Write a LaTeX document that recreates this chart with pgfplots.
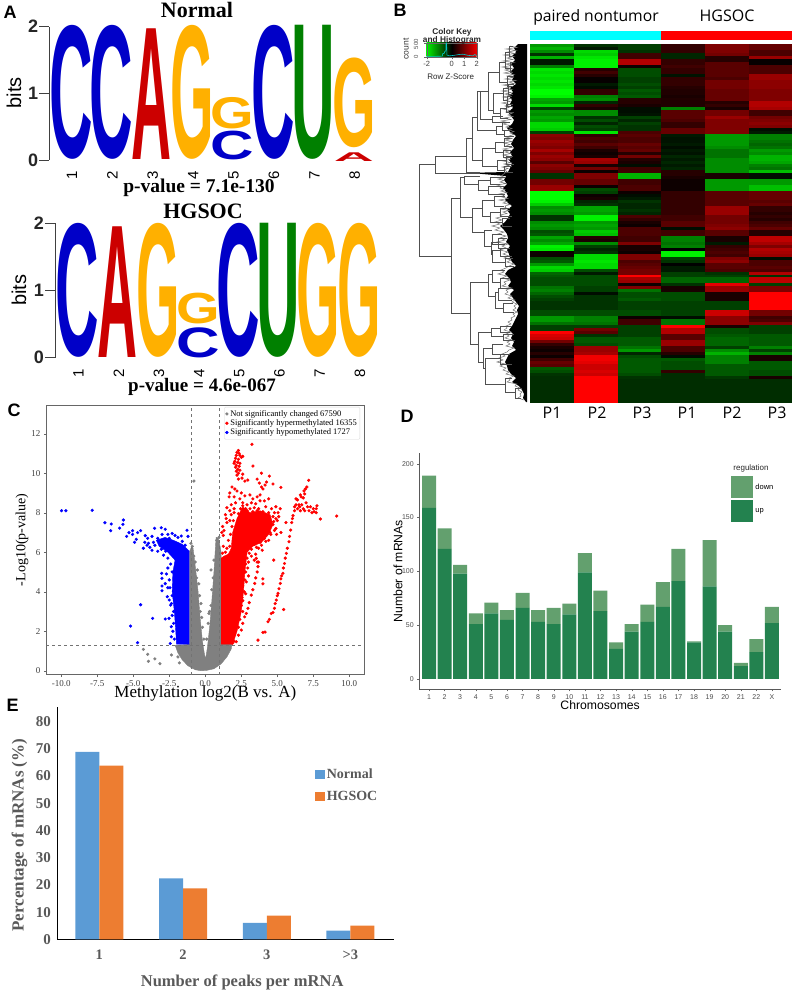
\documentclass[border=0pt]{standalone}
\usepackage{fontspec}
\usepackage{pgfplots}
\usepackage{pgfplotstable}
\pgfplotsset{compat=1.18}
\setmainfont{Liberation Sans}
\newfontfamily\serifb{Liberation Serif}
\newfontfamily\opens{Open Sans}
\newfontfamily\logofont{Liberation Sans}

\newcommand{\fs}[1]{\fontsize{#1}{#1}\selectfont}
\definecolor{logoC}{HTML}{0000C8}
\definecolor{logoG}{HTML}{FFB000}
\definecolor{logoA}{HTML}{CC0000}
\definecolor{logoU}{HTML}{008000}
\definecolor{upbar}{HTML}{23824F}
\definecolor{downbar}{HTML}{63A06E}
\definecolor{xlblue}{HTML}{5B9BD5}
\definecolor{xlorange}{HTML}{ED7D31}
\definecolor{greytxt}{HTML}{595959}
\definecolor{volgrey}{HTML}{808080}
\definecolor{treeline}{HTML}{505050}
\definecolor{barcyan}{HTML}{00FFFF}
\definecolor{barred}{HTML}{FF0000}
\definecolor{keygreen}{HTML}{00F000}
\definecolor{keyred}{HTML}{F00000}
\definecolor{histline}{HTML}{00C8C8}

% all panels are placed in reference pixels, 1px = 1pt
\pgfplotsset{
  px/.style n args={4}{scale only axis, anchor=north west,
    at={(#1pt,-#2pt)}, width=#3pt, height=#4pt},
  /pgf/number format/assume math mode=true,
}

% one letter of a sequence logo: [width] position, bottom bits, top bits, letter, colour
\newcommand{\logoletter}[6][43.5]{\node[anchor=south,inner sep=0pt] at (axis cs:#2,#3)
  {\pgfmathsetmacro\hh{(#4-#3)*67}\resizebox*{#1pt}{\hh pt}{\textcolor{#6}{\logofont\bfseries #5}}};}
\pgfplotsset{logo/.style={clip=false, ymin=0, ymax=2, xmax=8.5,
  axis y line*=left, axis x line*=bottom, x axis line style={draw=none},
  xtick={1,...,8}, ytick={0,1,2}, x tick style={draw=none},
  y tick style={black!75, line width=.9pt}, y axis line style={black!75, line width=.9pt},
  tick align=outside, major tick length=10pt,
  yticklabel style={font=\bfseries\fs{18}, text=black!85, inner sep=1pt},
  xticklabel style={font=\fs{15}, rotate=90, anchor=east, inner sep=1pt, yshift=-1pt}}}

% dendrogram bracket: parent x, y1, child x1, y2, child x2
\newcommand{\br}[5]{\addplot[treeline, line width=.65pt] coordinates {(#3,#2)(#1,#2)(#1,#4)(#5,#4)};}

\pgfdeclareplotmark{cell}{\pgfpathrectangle{\pgfpoint{-21.9pt}{-1.55pt}}{\pgfpoint{43.8pt}{3.1pt}}\pgfusepathqfill}

\pgfplotstableread{
c0 c1 c2 c3 c4 c5
-1.2 -0.4 -0.5 0.4 1.0 0.8
-1.4 -0.2 -0.5 0.4 1.0 0.8
-1.1 -1.7 -0.4 0.4 1.0 0.6
-0.4 -1.6 0.5 -0.3 0.9 0.6
-1.4 -1.8 0.5 -0.3 0.3 1.2
-0.2 -1.9 1.4 0.4 0.3 0.05
-0.2 -1.9 1.4 0.4 0.7 0.05
-1.0 -1.9 0.1 0.5 0.7 0.6
-1.8 0.3 -0.6 0.4 0.7 0.6
-1.7 0.5 -0.6 0.4 0.7 0.6
-1.8 0.3 -0.6 -0.15 0.7 1.2
-1.7 0.05 -0.5 0.4 0.6 1.2
-1.8 0.05 -0.5 0.4 0.9 1.1
-1.7 -0.2 -0.6 0.4 0.9 1.1
-1.8 -0.1 -0.5 0.3 0.9 1.1
-2.0 0.4 -0.7 0.25 0.8 1.0
-2.0 0.4 -0.6 0.25 0.8 1.0
-1.9 -1.0 -0.7 0.2 0.8 1.0
-1.3 -1.1 0.3 0.25 0.8 1.0
-1.2 -0.3 0.3 0.25 0.3 1.4
-1.7 0.4 0.2 0.25 0.4 1.4
-0.5 0.2 -0.1 -1.0 0.2 1.3
-1.2 -1.1 -0.1 0.7 0.9 0.5
-1.1 -1.1 -0.15 0.7 0.9 0.5
-1.3 -0.4 -0.5 0.7 1.2 0.9
-1.2 -0.6 -0.3 0.6 1.0 1.0
-1.7 -0.3 -0.5 0.4 1.0 1.1
-1.7 -0.6 -0.4 0.4 1.0 1.0
-1.6 -0.5 -0.4 0.8 1.0 -0.1
-0.5 -1.8 0.6 0.8 1.0 -0.2
1.1 0.4 0.7 -0.2 -1.2 -1.0
1.0 0.6 0.6 -0.15 -1.2 -1.0
1.2 0.5 0.6 -0.15 -1.2 -0.9
1.1 0.7 0.8 -0.2 -1.2 -0.8
1.0 0.5 0.7 -0.1 -1.1 -0.9
1.3 0.2 0.8 -0.2 -0.9 -1.2
1.0 0.1 0.3 -0.15 -0.9 -1.1
1.2 0.2 0.9 -0.3 -0.9 -1.4
1.1 1.3 0.3 -0.2 -1.1 -1.4
0.7 1.2 0.2 -0.3 -1.1 -1.3
1.1 0.2 -0.1 -0.2 -1.1 -1.0
1.0 0.9 0.5 -0.3 -1.1 -0.9
0.8 0.1 0.5 0.3 -1.1 -1.5
-0.4 1.0 -1.4 0.3 0.2 -0.1
-0.4 1.0 -1.4 0.2 0.2 -0.1
0.9 0.8 0.5 0.1 -1.2 -1.2
0.9 0.8 0.5 0.1 -1.2 -1.2
1.2 0.1 0.6 0.1 -1.2 -1.5
1.2 -0.6 0.6 0.1 -1.2 -1.5
-2.0 -0.5 0.1 0.4 0.7 0.8
-2.0 0.1 -0.1 0.4 0.7 0.8
-2.0 0.2 -0.2 0.4 0.7 0.8
-1.9 -0.3 -0.4 0.4 0.7 0.7
-1.6 -0.4 -0.3 0.4 0.7 0.8
-1.1 -1.3 -0.3 0.4 1.2 0.4
-1.2 -1.3 -0.4 0.4 1.2 0.4
-1.1 -1.2 -0.3 0.4 1.2 0.3
-0.4 -1.9 0.6 0.5 0.9 0.4
-0.4 -1.9 0.4 0.5 0.9 0.3
-1.1 -1.2 0.2 0.7 0.9 0.5
-1.2 -1.3 0.1 0.7 1.0 0.6
-1.1 -1.2 0.6 -0.1 1.1 0.8
-0.6 -1.6 0.6 0.5 0.7 0.3
-0.7 -1.5 0.6 0.5 0.7 0.3
-1.3 0.3 0.5 -1.0 0.2 1.5
-1.1 0.2 0.5 -1.0 0.2 1.5
-1.3 -1.1 1.0 -0.9 -0.2 1.3
-1.9 -0.5 0.2 -1.0 0.4 1.0
-1.8 -0.3 0.2 0.0 0.5 1.4
0.1 -0.4 0.1 -1.9 0.6 1.3
0.1 -1.7 1.0 -1.9 0.5 1.2
-0.6 -1.7 1.0 -0.5 1.0 -0.1
-0.7 -1.8 0.6 -0.4 1.1 0.6
-1.2 -1.7 0.7 0.0 0.7 0.6
-1.7 -1.7 0.8 -0.2 0.7 0.7
-1.6 -0.6 0.9 -0.2 0.6 0.6
-0.8 -0.2 0.9 -0.5 -0.4 1.4
-0.7 -0.6 2.0 -0.5 -0.5 -0.4
-0.6 -0.6 1.3 -0.8 -0.8 1.5
-0.6 -0.6 1.2 -0.8 -0.8 1.5
-0.6 -0.6 0.1 -0.4 1.8 -0.5
-0.9 -0.5 1.0 0.2 1.2 1.0
-1.0 -0.5 -0.9 0.2 1.2 1.0
-0.8 -0.1 -0.6 -0.6 0.2 2.0
-0.6 -0.4 -0.6 -0.6 0.2 2.0
-0.5 -0.4 -0.7 -0.6 0.2 2.0
-0.4 -0.4 -0.5 -0.5 -0.5 2.0
-0.4 -0.4 -0.5 -0.5 -0.5 2.0
-0.4 -0.4 -0.5 -0.5 -0.5 2.0
-0.6 -0.6 -0.6 -0.5 1.6 0.9
-0.6 -0.6 -0.6 -0.5 1.6 0.9
-1.2 -1.0 0.1 -0.1 1.1 0.5
-1.2 -1.0 0.5 -0.9 1.1 0.6
-0.9 -0.9 0.5 -0.9 1.1 1.0
-0.5 -0.5 -0.5 2.0 0.2 -0.5
-0.5 0.9 -0.5 1.4 -0.6 -0.5
2.0 0.7 -0.5 1.4 -0.6 -0.5
1.7 -0.4 -0.5 0.7 -0.7 -0.7
1.6 -0.7 -0.7 0.7 -0.8 -0.7
0.9 -0.7 -0.7 1.2 -0.8 -0.7
0.4 -0.6 -0.7 1.2 -0.8 -0.7
0.2 1.2 -0.9 0.6 -0.5 -1.0
0.1 1.2 -1.2 0.6 -1.1 -0.5
0.3 1.3 -0.3 0.3 -1.4 -1.0
0.1 1.9 -0.6 -0.1 -1.0 0.2
0.5 1.9 -0.7 -0.7 -1.0 0.2
0.8 1.8 -0.7 -0.6 -1.0 -0.7
0.7 1.6 -0.7 -0.6 -0.7 -0.7
-0.7 1.6 -0.7 -0.6 -0.7 -0.7
-0.6 1.7 -0.7 0.4 -0.7 -0.6
-0.4 1.6 -0.6 -0.35 -0.7 -0.6
-0.35 2.0 -0.4 -0.35 -0.45 0.2
-0.35 2.0 -0.35 -0.35 -0.35 -0.35
-0.35 2.0 -0.35 -0.35 -0.35 -0.35
-0.35 2.0 -0.35 -0.35 -0.35 -0.35
-0.35 2.0 -0.35 -0.35 -0.35 -0.35
-0.35 2.0 -0.35 -0.35 -0.35 -0.35
-0.35 2.0 -0.35 -0.35 -0.35 -0.35
-0.35 2.0 -0.35 -0.35 -0.35 -0.35
-0.35 2.0 -0.35 -0.35 -0.35 -0.35
}\heat

\pgfplotstableread{
chr up down
1 159 30
2 121 19
3 98 8
4 51 10
5 61 10
6 55 9
7 66 14
8 53 11
9 51 15
10 60 10
11 99 18
12 63 19
13 28 6
14 44 7
15 53 16
16 67 23
17 91 30
18 34 1
19 86 43
20 44 6
21 12 3
22 25 12
23 52 15
}\chromdata

\pgfplotstableread{
pos normal hgsoc
0 68.9 63.8
1 22.4 18.7
2 6.0 8.7
3 3.2 5.0
}\peakdata

\begin{document}
\begin{tikzpicture}
\path[use as bounding box] (0,0) rectangle (794pt,-992pt);

% ---- A: sequence logos
\begin{axis}[px={49.3}{26.7}{324.7}{133.3}, logo, xmin=0.465]
  \logoletter{1}{0}{2}{C}{logoC}
  \logoletter{2}{0}{2}{C}{logoC}
  \logoletter[40]{3}{0}{1.95}{A}{logoA}
  \logoletter{4}{0}{2}{G}{logoG}
  \logoletter{5}{0.47}{0.94}{G}{logoG}
  \logoletter{5}{0}{0.43}{C}{logoC}
  \logoletter{6}{0}{2}{C}{logoC}
  \logoletter{7}{0}{2}{U}{logoU}
  \logoletter{8}{0.18}{1.52}{G}{logoG}
  \logoletter[40]{8}{-0.03}{0.1}{A}{logoA}
\end{axis}
\begin{axis}[px={55}{223.3}{324}{134.4}, logo, xmin=0.438]
  \logoletter{1}{0}{2}{C}{logoC}
  \logoletter[40]{2}{0}{1.95}{A}{logoA}
  \logoletter{3}{0}{2}{G}{logoG}
  \logoletter{4}{0.5}{0.96}{G}{logoG}
  \logoletter{4}{0}{0.45}{C}{logoC}
  \logoletter{5}{0}{2}{C}{logoC}
  \logoletter{6}{0}{2}{U}{logoU}
  \logoletter{7}{0}{2}{G}{logoG}
  \logoletter{8}{0}{2}{G}{logoG}
\end{axis}
\node[font=\fs{18}\bfseries] at (10pt,-12pt) {A};
\node[font=\fs{20},rotate=90] at (14pt,-93pt) {bits};
\node[font=\fs{20},rotate=90] at (19pt,-290pt) {bits};
\node[font=\serifb\bfseries\fs{22}] at (197pt,-10pt) {Normal};
\node[font=\serifb\bfseries\fs{19.5}] at (199pt,-188pt) {p-value = 7.1e-130};
\node[font=\serifb\bfseries\fs{22}] at (203pt,-211pt) {HGSOC};
\node[font=\serifb\bfseries\fs{19}] at (202pt,-387pt) {p-value = 4.6e-067};

% ---- B: colour key
\shade[left color=keygreen, right color=keyred, middle color=black]
  (426.7pt,-43pt) rectangle (476.7pt,-57pt);
\begin{axis}[px={426.7}{43}{50}{14}, xmin=-2, xmax=2, ymin=0, ymax=500,
    axis line style={black!60, line width=.3pt},
    xtick={-2,0,1,2}, xticklabels={-2,0,1,2}, ytick={0,500}, yticklabels={},
    xtick pos=bottom, ytick pos=left, tick align=outside, major tick length=2.5pt,
    tick style={black!60, line width=.3pt},
    xticklabel style={font=\fs{7.5}, text=black!75, inner sep=1.5pt}]
  \addplot[histline, line width=.6pt] coordinates {(-2,20)(-1.2,25)(-0.75,30)(-0.72,120)(-0.6,130)(-0.55,200)(-0.47,220)(-0.45,500)(-0.41,500)(-0.38,70)(-0.2,40)(0.2,60)(0.6,90)(0.9,100)(1.3,60)(1.7,40)(1.85,90)(2,40)};
\end{axis}
\node[font=\bfseries\fs{8.3}, text=black!85] at (452pt,-32pt) {Color Key};
\node[font=\bfseries\fs{8.3}, text=black!85] at (452pt,-40.5pt) {and Histogram};
\node[font=\fs{8.5},rotate=90, text=black!80] at (406pt,-49pt) {count};
\node[font=\fs{6},rotate=90, text=black!70] at (416pt,-57pt) {0};
\node[font=\fs{6},rotate=90, text=black!70] at (416pt,-44pt) {500};
\node[font=\fs{8}, text=black!85] at (450.7pt,-77pt) {Row Z-Score};
\node[font=\fs{18}\bfseries] at (400pt,-10pt) {B};

% ---- B: dendrogram, coordinates are reference pixels
\begin{axis}[px={410}{44}{120}{359.3}, xmin=410, xmax=530, ymin=44, ymax=403.3,
    y dir=reverse, hide axis, clip=false]
  \addplot[fill=black, draw=none] coordinates {(527,44)(518,44)(514,48)(516,52)(512,56)(515,60)(511,64)(514,68)(510,72)(514,76)(512,80)(516,84)(510,88)(513,92)(509,96)(512,100)(510,104)(513,108)(508,112)(511,116)(514,120)(512,124)(507,128)(510,132)(516,136)(513,140)(511,144)(514,148)(510,152)(512,156)(509,160)(512,164)(510,168)(508,172)(480,172.6)(480,173.8)(506,176)(504,180)(507,184)(503,188)(506,192)(508,196)(505,200)(509,204)(512,206)(507,210)(510,214)(508,218)(505,222)(500,226)(504,230)(507,234)(508,238)(506,242)(510,246)(507,250)(509,254)(510,258)(512,262)(516,266)(508,270)(505,274)(509,278)(511,282)(508,286)(514,290)(510,294)(513,298)(516,302)(519,306)(517,310)(518,314)(516,318)(514,322)(512,326)(509,330)(513,334)(511,338)(514,342)(512,346)(516,350)(509,354)(507,358)(505,362)(507,366)(508,370)(511,374)(516,378)(512,382)(519,386)(522,390)(524,394)(523,398)(526,402)(527,402)};
  \addplot[black!55, line width=.5pt] coordinates {(510,46)(517,47.5)(506,49)(516,50.5)(508,52)(515,53.5)(504,55)(514,56.5)(507,58)(513,59.5)(503,61)(514,62.5)(506,64)(512,65.5)(502,67)(512,68.5)(505,70)(511,71.5)(504,73)(514,74.5)(507,76)(513,77.5)(505,79)(516,80.5)(509,82)(514,83.5)(503,85)(512,86.5)(506,88)(512,89.5)(502,91)(511,92.5)(505,94)(510,95.5)(503,97)(511,98.5)(506,100)(510,101.5)(502,103)(511,104.5)(505,106)(509,107.5)(503,109)(510,110.5)(506,112)(512,113.5)(508,115)(513,116.5)(504,118)(511,119.5)(501,121)(508,122.5)(503,124)(510,125.5)(506,127)(512,128.5)(508,130)(514,131.5)(510,133)(514,134.5)(506,137)(512,138.5)(505,140)(512,141.5)(504,143)(510,144.5)(506,146)(512,147.5)(503,149)(510,150.5)(505,152)(511,153.5)(503,155)(510,156.5)(505,158)(510,159.5)(503,161)(511,162.5)(504,164)(509,165.5)(502,167)(508,168.5)(504,170)(507,171.5)
  (501,176)(505,177.5)(498,179)(504,180.5)(500,182)(506,183.5)(497,185)(502,186.5)(500,188)(505,189.5)(501,191)(507,192.5)(499,194)(504,195.5)(502,197)(508,198.5)(499,200)(507,201.5)(503,203)(510,204.5)(505,206)(506,207.5)(501,209)(509,210.5)(503,212)(507,213.5)(500,215)(503,216.5)(496,218)(502,220)(495,222)(500,224)(492,226)(500,228)(495,230)(504,232)(498,234)(506,236)(500,238)(505,240)(497,242)(508,244)(502,246)(506,248)(500,250)(508,252)(503,254)(509,256)(504,258)(511,260)(507,262)(514,264)(509,266)(506,268)(501,270)(504,272)(498,274)(507,276)(502,278)(510,280)(504,282)(506,284)(502,286)(512,288)(506,290)(508,292)(505,294)(512,296)(508,298)(515,300)(512,302)(517,304)(514,306)(516,308)(513,310)(517,312)(513,314)(515,316)(511,318)(512,320)(508,322)(511,324)(506,326)(507,328)(504,330)(511,332)(506,334)(509,336)(505,338)(512,340)(507,342)(510,344)(506,346)(514,348)(509,350)(507,352)(502,354)(505,356)(499,358)(503,360)(497,362)(505,364)(500,366)(506,368)(503,370)(509,372)(506,374)(514,376)(509,378)(510,380)(507,382)(517,384)(515,386)(520,388)(518,390)(522,392)(520,394)(521,396)(518,398)(524,400)};
  \br{419}{164}{435}{256}{451}
  \br{435}{156}{466}{173}{480}
  \br{466}{138}{472}{172}{480}
  \br{472}{117}{477}{160}{482}
  \br{477}{91}{480}{130}{496}
  \br{480}{91}{488}{119}{492}
  \br{488}{72}{499}{110}{493}
  \br{499}{62}{505}{82}{507}
  \br{505}{52}{509}{68}{510}
  \br{509}{46}{513}{56}{512}
  \br{510}{62}{514}{72}{513}
  \br{507}{76}{514}{86}{512}
  \br{493}{93}{503}{113}{500}
  \br{503}{88}{508}{100}{507}
  \br{508}{84}{514}{94}{513}
  \br{507}{96}{512}{106}{513}
  \br{500}{108}{506}{118}{508}
  \br{506}{104}{513}{112}{514}
  \br{492}{116}{503}{122}{505}
  \br{496}{126}{502}{134}{504}
  \br{502}{122}{510}{130}{511}
  \br{504}{130}{512}{136}{514}
  \br{482}{148}{495}{166}{497}
  \br{495}{142}{504}{152}{503}
  \br{504}{138}{510}{146}{512}
  \br{503}{150}{511}{157}{512}
  \br{497}{160}{506}{170}{504}
  \br{506}{156}{513}{164}{514}
  \br{504}{166}{512}{172}{513}
  \br{451}{198}{460}{313}{470}
  \br{460}{177}{464}{217}{472}
  \br{464}{176}{480}{184}{478}
  \br{478}{180}{490}{190}{488}
  \br{490}{177}{505}{184}{500}
  \br{488}{186}{505}{194}{505}
  \br{472}{208}{482}{232}{484}
  \br{482}{200}{494}{216}{490}
  \br{494}{196}{505}{206}{504}
  \br{490}{212}{500}{222}{502}
  \br{500}{208}{510}{216}{512}
  \br{502}{218}{510}{226}{512}
  \br{484}{230}{492}{246}{491}
  \br{492}{234}{502}{244}{505}
  \br{491}{242}{498}{254}{492}
  \br{498}{238}{507}{248}{510}
  \br{492}{250}{500}{262}{505}
  \br{500}{248}{510}{256}{512}
  \br{505}{258}{513}{266}{514}
  \br{470}{282}{488}{344}{478}
  \br{488}{274}{492}{296}{495}
  \br{492}{270}{505}{282}{500}
  \br{500}{278}{510}{288}{512}
  \br{495}{292}{498}{308}{503}
  \br{498}{288}{508}{300}{512}
  \br{503}{303}{513}{312}{514}
  \br{478}{332}{491}{362}{483}
  \br{491}{328}{500}{336}{503}
  \br{500}{326}{512}{332}{510}
  \br{503}{334}{514}{340}{515}
  \br{483}{348}{492}{368}{485}
  \br{492}{344}{503}{354}{505}
  \br{485}{358}{500}{384}{505}
  \br{500}{354}{510}{364}{512}
  \br{505}{378}{512}{392}{515}
  \br{515}{388}{522}{398}{521}
\end{axis}

% ---- B: heat map
\fill[barcyan] (530.3pt,-30.7pt) rectangle (661.3pt,-40pt);
\fill[barred] (661.3pt,-30.7pt) rectangle (792.3pt,-40pt);
\begin{axis}[px={530.3}{44}{262}{359.3}, xmin=-0.5, xmax=5.5, ymin=-0.5, ymax=119.5,
    y dir=reverse, hide axis, point meta min=-2, point meta max=2,
    colormap={rg}{rgb255(0)=(0,255,0); rgb255(1)=(0,0,0); rgb255(2)=(255,0,0)}]
  \pgfplotsinvokeforeach{0,...,5}{
    \addplot[scatter, only marks, mark=cell, point meta=explicit]
      table[x expr=#1, y expr=\coordindex, meta=c#1] {\heat};
  }
\end{axis}
\node[font=\opens\fs{15.7}] at (596pt,-17pt) {paired nontumor};
\node[font=\opens\fs{16}] at (727pt,-16pt) {HGSOC};
\foreach \x/\t in {552/P1,597/P2,642/P3,687/P1,732/P2,777/P3}
  \node[font=\opens\fs{16}] at (\x pt,-413pt) {\t};

% ---- C: volcano plot
\begin{axis}[px={46.3}{405}{318}{269.7}, xmin=-11.04, xmax=11.04, ymin=-0.2, ymax=13.45,
    axis line style={black!60, line width=.9pt},
    xtick={-10,-7.5,...,10}, xticklabels={-10.0,-7.5,-5.0,-2.5,0.0,2.5,5.0,7.5,10.0},
    ytick={0,2,...,12}, xtick pos=bottom, ytick pos=left, tick align=outside,
    major tick length=2.5pt, tick style={black!60},
    ticklabel style={font=\serifb\fs{9}, text=black!75},
    xlabel={Methylation log2(B vs. A)}, ylabel={-Log10(p-value)},
    xlabel style={font=\serifb\fs{17}, at={(axis description cs:0.5,-0.07)}, anchor=center},
    ylabel style={font=\serifb\fs{14}, at={(axis description cs:-0.0764,0.5)}, anchor=center},
    legend style={at={(rel axis cs:0.9865,0.9926)}, anchor=north east, font=\serifb\fs{8.5},
      draw=black!15, rounded corners=1pt, inner sep=1pt, row sep=-2.2pt,
      /tikz/every even column/.append style={column sep=17pt}},
    legend cell align=left]
  \addplot[volgrey, fill=volgrey, forget plot] coordinates {(-2.1,1.3)(-1.9,0.9)(-1.6,0.55)(-1.2,0.25)(-0.7,0.05)(-0.3,0)(0.1,0.02)(0.6,0.1)(1.1,0.35)(1.5,0.7)(1.8,1.1)(1.85,1.35)(1.1,1.35)(1.1,6.0)(1.0,6.4)(0.9,6.7)(0.75,6.75)(0.7,6.2)(0.6,5.0)(0.45,3.5)(0.3,2.2)(0.15,1.2)(0.03,0.62)(-0.05,0.8)(-0.2,1.5)(-0.35,2.6)(-0.5,4.0)(-0.65,5.0)(-0.85,6.2)(-0.95,6.3)(-1.1,6.0)(-1.1,1.35)};
  \addplot[only marks, mark=*, mark size=1.4pt, volgrey] coordinates {(-0.79,9.6)(-4.3,1.08)(-4.0,0.83)(-3.95,0.48)(-3.5,0.6)(-3.15,0.36)(-2.35,0.8)(-1.8,0.4)(-1.9,0.7)(-0.9,6.3)(-1.0,6.45)(-0.8,5.8)(-0.7,5.5)(-0.55,5.1)(-0.6,4.7)(-0.45,4.4)(-0.4,3.8)(-0.3,3.4)(-0.25,2.7)(-0.35,3.0)(-0.2,2.2)(-0.1,1.6)(0.95,6.75)(0.8,6.6)(0.6,5.6)(0.4,5.1)(0.55,4.7)(0.4,3.3)(0.25,2.9)(0.2,2.4)(0.3,3.0)(0.1,1.6)(0.45,4.1)};
  \addplot[red, fill=red, forget plot] coordinates {(1.1,1.35)(1.9,1.35)(2.2,2.0)(2.5,3.0)(2.65,4.0)(2.75,5.0)(2.9,6.0)(3.3,6.3)(3.9,6.5)(4.4,6.9)(4.7,7.4)(4.5,7.9)(3.8,8.1)(3.1,8.0)(2.6,8.3)(2.2,7.7)(1.9,7.0)(1.8,6.2)(1.6,5.9)(1.3,5.8)(1.1,5.7)};
  \addplot[only marks, mark=*, mark size=1.4pt, red] coordinates {(2.3,11.15)(2.2,11.05)(2.35,11.0)(2.15,10.9)(2.4,10.9)(2.5,10.8)(2.6,10.85)(2.1,10.75)(2.3,10.7)(2.05,10.6)(2.25,10.55)(2.4,10.5)(2.0,10.5)(2.15,10.4)(2.35,10.35)(2.1,10.3)(2.25,10.2)(2.4,10.15)(2.15,10.1)(2.3,10.0)(2.2,9.9)(2.6,9.95)(2.55,9.75)(2.3,9.7)(2.75,9.6)(2.95,9.65)(3.24,11.46)(3.31,10.36)(3.9,10.0)(4.45,9.85)(3.6,9.7)(3.75,9.5)(4.7,9.45)(5.25,9.28)(4.0,9.2)(4.15,9.4)(4.25,9.55)(3.9,9.3)
  (1.85,9.3)(2.05,9.2)(1.7,9.0)(2.2,9.1)(2.5,9.0)(1.65,8.8)(2.0,8.8)(2.4,8.7)(2.75,8.85)(3.1,8.9)(3.3,8.7)(3.6,8.8)(3.8,8.9)(2.1,8.5)(1.8,8.4)(2.6,8.5)(2.9,8.4)(3.2,8.5)(3.5,8.45)(3.8,8.6)(4.1,8.6)(4.4,8.7)(1.5,8.25)(2.0,8.2)(2.45,8.2)(2.8,8.2)(3.1,8.2)(3.4,8.25)(3.7,8.2)(4.2,8.3)(4.6,8.2)(4.9,8.3)(5.2,8.2)(4.8,8.0)(5.05,8.0)(1.4,7.9)(1.8,7.9)(1.45,7.7)(1.2,7.3)(1.3,7.1)(1.15,7.0)(1.25,6.85)(1.5,7.5)(1.7,7.6)(4.9,7.7)(5.0,7.6)(5.1,7.8)(4.7,7.4)(4.9,7.2)(5.25,7.0)(4.5,7.0)(4.95,6.9)(5.6,7.5)(4.4,6.6)(4.1,6.7)(3.8,6.5)(3.4,6.4)(3.7,6.2)(3.95,6.1)(3.5,5.9)(3.2,5.8)(3.4,5.6)(3.7,5.5)(3.0,5.5)(2.8,5.4)(2.95,5.2)(2.8,5.0)(3.0,4.8)(2.75,4.6)(2.6,4.3)(2.7,4.0)(2.55,3.7)(2.5,3.3)(2.35,2.9)(2.6,3.0)(2.2,2.5)(2.0,1.8)(2.0,1.5)(1.9,1.4)
  (2.0,8.0)(2.3,7.95)(2.6,8.35)(2.9,8.1)(3.3,8.05)(3.6,8.1)(4.0,8.05)(4.4,8.0)(4.7,7.8)(4.75,7.55)(4.8,7.1)(4.55,6.9)(4.2,6.55)(3.9,6.35)(3.55,6.25)(3.2,6.15)(3.05,5.95)(2.9,5.7)(1.7,6.3)(1.6,6.6)(1.75,6.9)(1.85,7.3)(1.95,7.6)(1.7,8.1)(1.4,6.0)(1.25,6.3)(1.5,6.2)(1.2,5.95)(2.85,4.5)(2.8,3.9)(2.6,3.55)(2.4,2.6)(2.3,2.2)
  (3.66,1.55)(4.0,1.94)(4.15,1.96)(4.35,2.48)(4.45,2.6)(4.58,2.9)(4.7,2.95)(4.8,3.16)(4.85,3.4)(4.93,3.58)(5.0,3.8)(5.05,3.92)(5.12,4.15)(5.21,4.42)(5.25,4.65)(5.3,4.8)(5.39,4.93)(5.42,5.2)(5.5,5.43)(5.55,5.7)(5.63,5.94)(5.7,6.2)(5.81,6.53)(5.85,6.8)(5.93,7.12)(6.0,7.5)(6.05,7.7)(6.09,7.85)(5.44,3.1)(4.75,5.6)
  (2.15,1.47)(2.3,1.8)(2.5,2.06)(2.6,2.4)(2.73,2.73)(2.85,2.9)(2.96,3.16)(3.05,3.45)(3.19,3.83)(3.3,4.1)(3.43,4.42)(3.5,4.7)(3.6,5.0)(3.66,5.27)(3.6,5.5)(3.54,5.69)(4.0,4.4)(4.0,4.65)
  (6.2,8.1)(6.3,8.4)(6.2,8.3)(6.3,8.7)(6.4,8.2)(6.5,8.4)(6.55,8.3)(6.6,8.1)(6.7,8.4)(6.8,8.2)(6.9,8.1)(7.0,8.5)(7.1,8.3)(7.2,8.1)(7.3,8.3)(7.4,8.0)(7.5,8.2)(7.55,8.05)(7.7,8.2)(7.75,8.35)(7.7,8.0)(6.4,8.65)(6.6,8.9)(6.65,8.8)(6.8,8.75)(6.85,9.1)(6.95,9.2)(6.9,8.95)(7.05,9.3)(7.18,9.64)(7.99,7.68)(9.12,7.83)};
  \addplot[blue, fill=blue, forget plot] coordinates {(-1.1,1.35)(-2.0,1.35)(-2.05,2.0)(-2.15,3.0)(-2.3,4.0)(-2.25,5.0)(-2.1,5.6)(-2.6,6.0)(-3.2,6.3)(-3.4,6.6)(-2.8,6.75)(-2.2,6.6)(-1.6,6.4)(-1.1,6.05)};
  \addplot[only marks, mark=*, mark size=1.4pt, blue] coordinates {(-9.98,8.1)(-9.68,8.1)(-7.85,8.12)(-6.97,7.49)(-6.53,7.43)(-5.72,7.41)(-5.69,7.63)(-5.95,7.22)(-6.57,7.09)(-5.46,6.8)(-5.3,6.99)(-5.05,7.09)(-5.05,6.9)(-4.7,6.99)(-4.49,7.09)(-4.79,6.65)(-4.91,6.5)(-4.17,6.84)(-3.52,7.21)(-3.06,7.24)(-2.78,7.16)(-1.67,6.82)(-1.27,7.11)(-1.2,6.8)(-5.19,2.26)(-4.7,1.42)(-4.49,3.34)(-3.66,2.65)(-3.03,4.93)(-3.01,4.68)(-3.01,4.29)(-3.01,4.05)(-2.78,4.41)(-2.64,3.75)(-2.5,3.58)(-2.41,3.32)(-2.78,2.62)(-2.52,2.65)(-2.36,2.23)(-2.36,1.72)(-2.43,1.38)(-4.2,6.5)(-4.0,6.7)(-3.7,6.8)(-3.3,6.7)(-3.0,6.9)(-2.6,6.9)(-2.3,6.95)(-2.1,6.85)(-4.3,6.2)(-3.7,6.1)(-3.3,6.05)(-2.9,5.85)(-2.6,5.7)(-2.4,5.4)(-2.6,5.2)(-2.3,5.0)(-2.7,4.9)(-2.5,4.6)(-2.45,4.2)(-2.3,3.8)(-2.35,3.4)(-2.2,3.0)(-2.3,2.8)(-2.2,2.4)(-2.25,2.0)(-2.15,1.6)(-2.6,4.2)(-3.95,6.45)(-3.6,6.5)(-3.85,6.25)(-3.5,6.35)(-4.05,6.35)(-3.1,6.5)(-2.85,6.45)(-2.5,6.7)(-1.9,6.75)(-1.6,6.55)(-1.4,6.35)(-3.05,6.15)(-2.75,6.05)};
  \addplot[black!55, dashed, line width=.8pt, forget plot] coordinates {(-1,-0.2)(-1,13.45)};
  \addplot[black!55, dashed, line width=.8pt, forget plot] coordinates {(1,-0.2)(1,13.45)};
  \addplot[black!55, dashed, line width=.8pt, forget plot] coordinates {(-11.04,1.3)(11.04,1.3)};
  \legend{Not significantly changed 67590,Significantly hypermethylated 16355,Significantly hypomethylated 1727}
\end{axis}
\node[font=\fs{18}\bfseries] at (14pt,-410pt) {C};

% ---- D: stacked bars per chromosome
\begin{axis}[px={419.3}{453}{361.7}{236.3}, xmin=0.378, xmax=23.58, ymin=-9.6, ymax=210,
    ybar stacked, bar width=14pt,
    axis x line*=bottom, axis y line*=left, axis line style={black!65, line width=.7pt},
    xtick=data, xticklabels={1,2,...,22,X}, ytick={0,50,...,200},
    tick align=outside, major tick length=2pt, tick style={black!60},
    ticklabel style={font=\fs{7}, text=black!70},
    xlabel={Chromosomes}, ylabel={Number of mRNAs},
    xlabel style={font=\fs{12.2}, at={(axis description cs:0.5,-0.066)}, anchor=center},
    ylabel style={font=\fs{12.2}, at={(axis description cs:-0.0589,0.5)}, anchor=center},
    legend style={at={(rel axis cs:0.8617,0.9027)}, anchor=north west, draw=none, fill=none,
      font=\fs{7.5}, inner sep=0pt, row sep=1.4pt,
      /tikz/every even column/.append style={column sep=4.5pt}},
    legend cell align=left, reverse legend,
    legend image code/.code={\fill[#1] (0pt,-11.1pt) rectangle (22.3pt,11.1pt);}]
  \addplot[fill=upbar, draw=none] table[x=chr, y=up] {\chromdata};
  \addplot[fill=downbar, draw=none] table[x=chr, y=down] {\chromdata};
  \legend{up,down}
\end{axis}
\node[font=\fs{8}, text=black!85] at (751pt,-468pt) {regulation};
\node[font=\fs{18}\bfseries] at (407pt,-416pt) {D};

% ---- E: grouped bars
\begin{axis}[px={57.3}{706.7}{336.7}{232.6}, xmin=-0.502, xmax=3.52, ymin=0, ymax=85.5,
    ybar=0pt, bar width=24pt,
    axis x line*=bottom, axis y line*=left, axis line style={black, line width=1.1pt},
    xtick=data, xticklabels={1,2,3,>3}, ytick={0,10,...,80}, major tick length=0pt,
    xticklabel style={font=\serifb\bfseries\fs{14.5}, text=greytxt, yshift=-7pt},
    yticklabel style={font=\serifb\bfseries\fs{15}, text=greytxt, xshift=-3pt},
    xlabel={Number of peaks per mRNA}, ylabel={Percentage of mRNAs (\%)},
    xlabel style={font=\serifb\bfseries\fs{16.5}, text=greytxt, at={(axis description cs:0.549,-0.184)}, anchor=center},
    ylabel style={font=\serifb\bfseries\fs{17}, text=greytxt, at={(axis description cs:-0.112,0.448)}, anchor=center},
    legend style={at={(rel axis cs:0.765,0.741)}, anchor=north west, draw=none, fill=none,
      font=\serifb\bfseries\fs{14}, text=greytxt, inner sep=0pt, row sep=7pt,
      /tikz/every even column/.append style={column sep=4.5pt}},
    legend cell align=left,
    legend image code/.code={\fill[#1] (0pt,-4.7pt) rectangle (9.7pt,4.7pt);}]
  \addplot[fill=xlblue, draw=none] table[x=pos, y=normal] {\peakdata};
  \addplot[fill=xlorange, draw=none] table[x=pos, y=hgsoc] {\peakdata};
  \legend{Normal,HGSOC}
\end{axis}
\node[font=\fs{18}\bfseries] at (12.7pt,-705pt) {E};
\end{tikzpicture}
\end{document}
